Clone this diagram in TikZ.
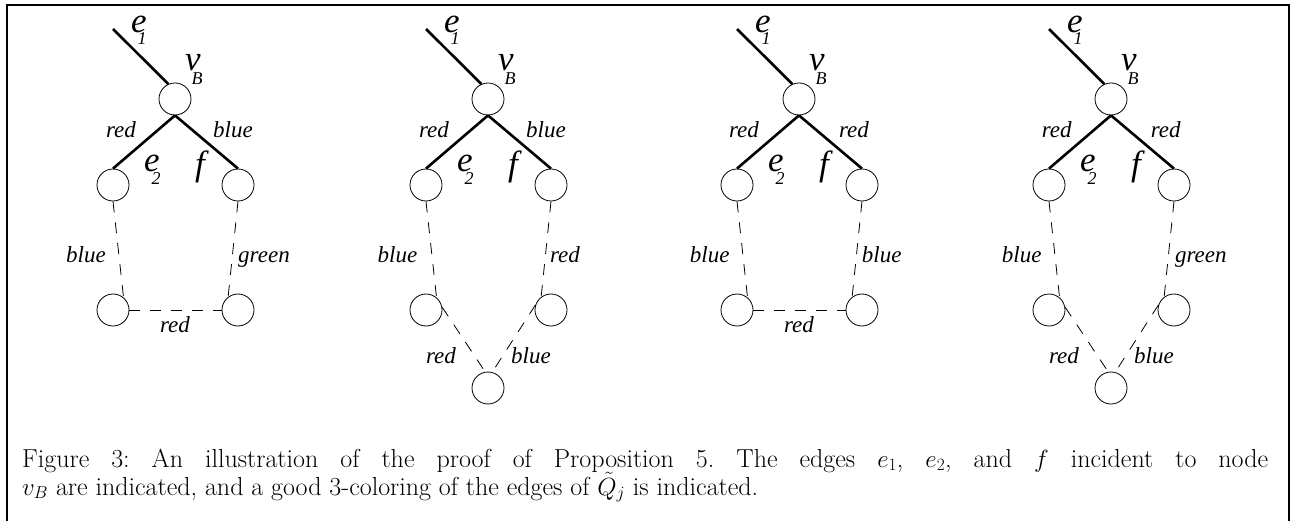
\documentclass[tikz,border=0pt]{standalone}
\usepackage{fontspec}
\newfontfamily\lab{LiberationSerif}[Extension=.ttf,UprightFont=*-Regular,ItalicFont=*-Italic]
\begin{document}
\begin{tikzpicture}[x=1pt,y=-1pt,
  vtx/.style={circle,draw,minimum size=32pt,inner sep=0pt,line width=0.8pt},
  thickedge/.style={line width=2.6pt},
  dashedge/.style={line width=0.8pt,dash pattern=on 11pt off 10pt},
  lbl/.style={anchor=base,inner sep=0pt,font=\fontsize{23}{23}\selectfont\lab\itshape},
  big/.style={anchor=base,inner sep=0pt,font=\fontsize{35}{35}\selectfont\lab\itshape},
  sub/.style={anchor=base,inner sep=0pt,font=\fontsize{18}{18}\selectfont\lab\itshape},
  captext/.style={anchor=base west,inner sep=0pt,font=\fontsize{26}{28}\selectfont\frenchspacing},
  frame/.style={line width=2pt}]
\useasboundingbox (0,0) rectangle (1293,521);
\coordinate (fa) at (7,522);
\coordinate (fb) at (7,5);
\coordinate (fc) at (1289,5);
\coordinate (fd) at (1289,522);
\draw[frame] (fa) -- (fb) -- (fc) -- (fd);
% common top part
\foreach \off/\p in {0/p1,313/p2,624/p3,936/p4}{
\begin{scope}[shift={(\off,0)},name prefix=\p-]
  \node[vtx] (vB) at (175,99) {};
  \node[vtx] (L) at (113,185) {};
  \node[vtx] (R) at (238,185) {};
  \node[vtx] (BL) at (113,310) {};
  \node[vtx] (BR) at (238,310) {};
  \coordinate (e1s) at (113,29);
  \draw[thickedge] (e1s) -- (vB.114);
  \draw[thickedge] (vB.south) -- (L.north);
  \draw[thickedge] (vB.south) -- (R.north);
  \draw[dashedge] (L.south) -- (BL.50);
  \draw[dashedge] (R.south) -- (BR.127);
  \node[big] (te1) at (139,33) {e};
  \node[sub] (t1) at (142,45) {1};
  \node[big] (tv) at (193,71) {v};
  \node[sub] (tB) at (197,85) {B};
  \node[big] (te2) at (152,172) {e};
  \node[sub] (t2) at (156,185) {2};
  \node[big] (tf) at (200,176) {f};
\end{scope}
}
% panel 1
\draw[dashedge] (p1-BL.east) -- (p1-BR.west);
\node[lbl] (a1) at (121,138) {red};
\node[lbl] (a2) at (233,138) {blue};
\node[lbl] (a3) at (86,263) {blue};
\node[lbl] (a4) at (264,263) {green};
\node[lbl] (a5) at (175,332) {red};
% panel 2
\begin{scope}[shift={(313,0)}]
\node[vtx] (p2-Bot) at (175,388) {};
\node[lbl] (b1) at (121,138) {red};
\node[lbl] (b2) at (233,138) {blue};
\node[lbl] (b3) at (84.5,263) {blue};
\node[lbl] (b4) at (252,263) {red};
\node[lbl] (b5) at (128,363) {red};
\node[lbl] (b6) at (218,363) {blue};
\end{scope}
\draw[dashedge] (p2-BL.10) -- (p2-Bot.100);
\draw[dashedge] (p2-BR.162) -- (p2-Bot.75);
% panel 3
\draw[dashedge] (p3-BL.east) -- (p3-BR.west);
\begin{scope}[shift={(624,0)}]
\node[lbl] (c1) at (120,138) {red};
\node[lbl] (c2) at (230,138) {red};
\node[lbl] (c3) at (85.7,263) {blue};
\node[lbl] (c4) at (257.7,263) {blue};
\node[lbl] (c5) at (175,332) {red};
\end{scope}
% panel 4
\begin{scope}[shift={(936,0)}]
\node[vtx] (p4-Bot) at (175,388) {};
\node[lbl] (d1) at (120.7,138) {red};
\node[lbl] (d2) at (229.7,138) {red};
\node[lbl] (d3) at (85.7,263) {blue};
\node[lbl] (d4) at (264.8,263) {green};
\node[lbl] (d5) at (128,363) {red};
\node[lbl] (d6) at (218,363) {blue};
\end{scope}
\draw[dashedge] (p4-BL.10) -- (p4-Bot.100);
\draw[dashedge] (p4-BR.162) -- (p4-Bot.75);
% caption
\node[captext] (cap1) at (22,467)
  {\makebox[1246pt][s]{Figure 3: An illustration of the proof of Proposition 5. The edges $e_1$, $e_2$, and $f$ incident to node}};
\node[captext] (cap2) at (22,495)
  {$v_B$ are indicated, and a good 3-coloring of the edges of $\tilde{Q}_j$ is indicated.};
\end{tikzpicture}
\end{document}
